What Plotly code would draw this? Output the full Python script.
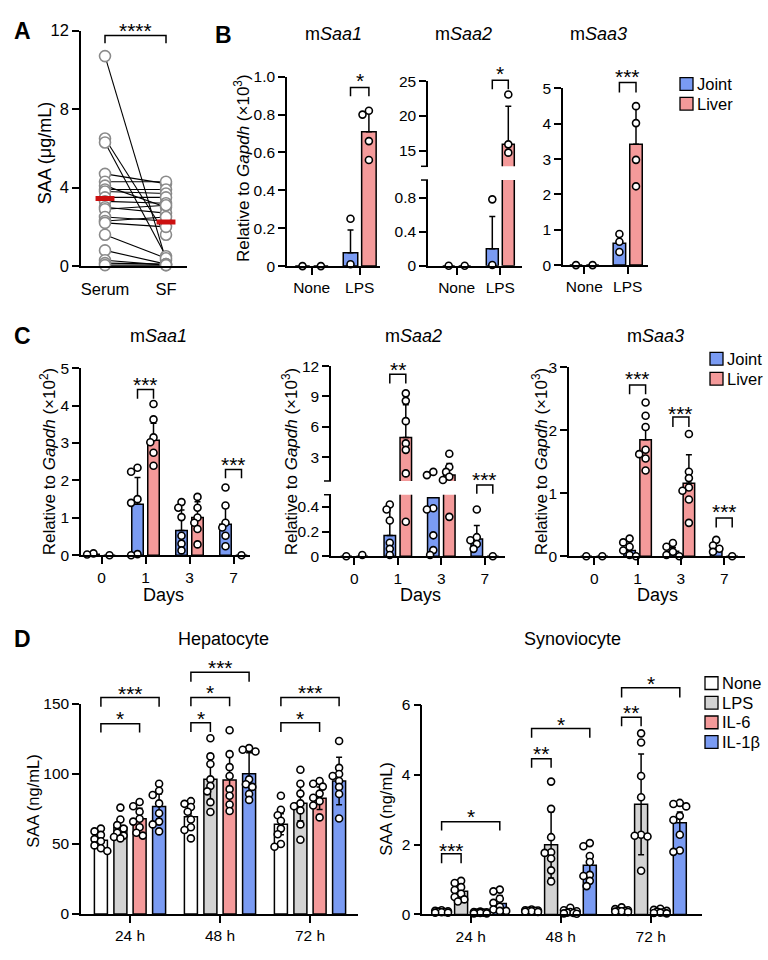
import plotly.graph_objects as go

W, H = 768, 960
FONT = "Liberation Sans, Arial, sans-serif"
BLUE = "#7A9BF3"
PINK = "#F49A9A"
GREY = "#D3D3D3"
WHITE = "#FFFFFF"

# ======================= DATA =======================
# Panel A: paired serum / synovial fluid SAA (ug/mL)
A_groups = ["Serum", "SF"]
A_serum = [10.7, 6.5, 6.3, 4.7, 4.3, 4.1, 3.9, 3.8, 3.5, 3.3, 3.0, 2.9, 2.5, 2.3, 2.2, 1.6, 0.8, 0.3, 0.15, 0.05]
A_sf = [0.3, 1.6, 0.5, 4.2, 4.3, 3.0, 3.9, 3.7, 3.5, 3.2, 2.7, 3.1, 2.3, 2.5, 2.0, 0.4, 0.1, 0.05, 0.1, 0.05]
A_mean = [3.45, 2.25]

# Panel B: None / LPS, Joint vs Liver
B_groups = ["None", "LPS"]
B1_joint_mean = [0.0, 0.07]
B1_joint_sd = [0.0, 0.12]
B1_joint_pts = [[0.0], [0.25, 0.01]]
B1_liver_mean = [0.0, 0.71]
B1_liver_sd = [0.0, 0.12]
B1_liver_pts = [[0.0], [0.82, 0.80, 0.66, 0.56]]

B2_joint_mean = [0.0, 0.20]
B2_joint_sd = [0.0, 0.38]
B2_joint_pts = [[0.0], [0.78, 0.01]]
B2_liver_mean = [0.0, 15.9]
B2_liver_sd = [0.0, 5.5]
B2_liver_pts = [[0.0], [23.1, 15.9, 14.7]]

B3_joint_mean = [0.0, 0.62]
B3_joint_sd = [0.0, 0.20]
B3_joint_pts = [[0.0], [0.88, 0.66, 0.37]]
B3_liver_mean = [0.0, 3.42]
B3_liver_sd = [0.0, 1.07]
B3_liver_pts = [[0.0], [4.50, 4.02, 2.98, 2.23]]

# Panel C: days 0/1/3/7, Joint vs Liver
C_days = ["0", "1", "3", "7"]
C1_joint_mean = [0.03, 1.36, 0.66, 0.83]
C1_joint_sd = [0.0, 0.72, 0.55, 0.44]
C1_joint_pts = [[0.05, 0.02], [2.34, 2.23, 1.50, 1.40, 0.03, 0.0],
                [1.42, 1.27, 1.02, 0.52, 0.31, 0.13], [1.81, 1.33, 0.87, 0.74, 0.52, 0.24]]
C1_liver_mean = [0.0, 3.07, 1.01, 0.0]
C1_liver_sd = [0.0, 0.46, 0.42, 0.0]
C1_liver_pts = [[0.0], [4.04, 3.63, 3.15, 3.02, 2.74, 2.39],
                [1.56, 1.27, 1.01, 0.87, 0.70, 0.29], [0.0]]

C2_joint_mean = [0.0, 0.168, 0.475, 0.14]
C2_joint_sd = [0.0, 0.26, 0.0, 0.11]
C2_joint_pts = [[0.0], [0.42, 0.38, 0.29, 0.11, 0.06, 0.01],
                [1.54, 1.22, 0.39, 0.38, 0.17, 0.05, 0.01], [0.38, 0.155, 0.13, 0.10, 0.06]]
C2_liver_mean = [0.0, 4.94, 1.22, 0.0]
C2_liver_sd = [0.0, 3.24, 1.14, 0.0]
C2_liver_pts = [[0.01], [9.31, 8.57, 6.56, 4.36, 3.72, 1.39, 0.28],
                [3.33, 2.03, 1.54, 1.06, 0.74, 0.32], [0.0]]

C3_joint_mean = [0.0, 0.09, 0.08, 0.145]
C3_joint_sd = [0.0, 0.08, 0.06, 0.09]
C3_joint_pts = [[0.0], [0.28, 0.22, 0.15, 0.09, 0.02, 0.0],
                [0.21, 0.15, 0.07, 0.02, 0.0], [0.26, 0.17, 0.12, 0.07]]
C3_liver_mean = [0.0, 1.85, 1.16, 0.0]
C3_liver_sd = [0.0, 0.17, 0.45, 0.0]
C3_liver_pts = [[0.0], [2.44, 2.23, 2.05, 1.69, 1.62, 1.55, 1.36],
                [1.94, 1.34, 1.24, 1.09, 1.04, 0.90, 0.53], [0.0]]

# Panel D: 24/48/72 h, four stimulations
D_times = ["24 h", "48 h", "72 h"]
D_conditions = ["None", "LPS", "IL-6", "IL-1β"]

D1_none_mean = [52.6, 69.4, 64.2]
D1_none_sd = [5.0, 9.0, 7.5]
D1_none_pts = [[61, 59, 56.5, 53.5, 52, 49, 47, 45], [80.6, 78.7, 76.4, 73, 67.5, 62, 60, 54],
               [84.5, 74.5, 70.5, 66.6, 61, 57, 50, 48]]
D1_lps_mean = [61.9, 96.2, 79.2]
D1_lps_sd = [6.5, 18.0, 12.5]
D1_lps_pts = [[76, 67.5, 63.5, 61, 58, 56, 55, 54], [125.5, 112.6, 107.2, 96.2, 91.5, 87.6, 79.9, 72.9],
              [103, 93, 86, 79, 77, 74, 64, 53]]
D1_il6_mean = [68.0, 95.8, 82.7]
D1_il6_sd = [7.5, 19.0, 8.0]
D1_il6_pts = [[80, 77, 73, 68, 66, 62, 58, 56], [131.3, 114.2, 104.9, 98.6, 89.2, 84.5, 78.2, 73.6],
              [95, 93, 91, 86, 83, 80.6, 77.5, 69]]
D1_il1b_mean = [76.8, 100.2, 95.0]
D1_il1b_sd = [9.0, 15.0, 17.0]
D1_il1b_pts = [[93, 88, 85, 79, 72, 66, 64, 59], [118.5, 117.3, 116.1, 96.2, 92.7, 90.8, 85.7, 81.5],
               [123.6, 104.4, 100, 98.6, 95, 90.8, 85.7, 68.2]]

D2_none_mean = [0.08, 0.10, 0.12]
D2_none_sd = [0.02, 0.02, 0.03]
D2_none_pts = [[0.12, 0.10, 0.09, 0.08, 0.07, 0.06, 0.05, 0.05], [0.14, 0.12, 0.11, 0.10, 0.10, 0.09, 0.08, 0.07],
               [0.20, 0.15, 0.12, 0.10, 0.10, 0.09, 0.08, 0.07]]
D2_lps_mean = [0.66, 1.99, 3.15]
D2_lps_sd = [0.20, 0.95, 1.44]
D2_lps_pts = [[0.96, 0.90, 0.78, 0.70, 0.59, 0.50, 0.43, 0.37], [3.80, 3.02, 2.21, 1.78, 1.76, 1.60, 1.26, 0.94],
              [5.18, 4.92, 3.96, 3.35, 2.28, 2.25, 2.23, 1.25]]
D2_il6_mean = [0.05, 0.07, 0.08]
D2_il6_sd = [0.01, 0.02, 0.02]
D2_il6_pts = [[0.08, 0.07, 0.06, 0.05, 0.05, 0.04, 0.03, 0.03], [0.19, 0.12, 0.09, 0.07, 0.05, 0.04, 0.03, 0.02],
              [0.16, 0.13, 0.10, 0.08, 0.06, 0.05, 0.04, 0.03]]
D2_il1b_mean = [0.31, 1.41, 2.62]
D2_il1b_sd = [0.23, 0.26, 0.31]
D2_il1b_pts = [[0.71, 0.66, 0.45, 0.33, 0.22, 0.14, 0.10, 0.10], [2.04, 1.95, 1.67, 1.50, 1.13, 1.10, 0.96, 0.81],
               [3.19, 3.16, 3.09, 2.82, 2.70, 2.28, 1.83, 1.79]]

# ======================= LAYOUT GEOMETRY (pixels) =======================
PANELS = {
    'A':   dict(x0=81, x1=187, yt=22, yb=262, g0=105, s=61, yr=[0, 12]),
    'B1':  dict(x0=287, x1=380, yt=69, yb=262, g0=311.7, s=48, yr=[0, 1.0]),
    'B2l': dict(x0=428, x1=522, yt=174.3, yb=261.7, g0=456.7, s=43.6, yr=[0, 1.007]),
    'B2u': dict(x0=428, x1=522, yt=73.7, yb=160.3, g0=456.7, s=43.6, yr=[12.73, 25]),
    'B3':  dict(x0=563, x1=648, yt=81, yb=261, g0=584.3, s=43.4, yr=[0, 5]),
    'C1':  dict(x0=81, x1=250, yt=366, yb=556.7, g0=101.5, s=44, yr=[0, 5]),
    'C2l': dict(x0=331, x1=505, yt=495, yb=557.7, g0=354.3, s=43.5, yr=[0, 0.5]),
    'C2u': dict(x0=331, x1=505, yt=364, yb=481, g0=354.3, s=43.5, yr=[0.64, 12]),
    'C3':  dict(x0=569, x1=745, yt=365, yb=557.7, g0=594.3, s=43.3, yr=[0, 3]),
    'D1':  dict(x0=81, x1=358, yt=708.3, yb=922.3, g0=130, s=90, yr=[0, 150]),
    'D2':  dict(x0=422.3, x1=701.7, yt=709, yb=922.7, g0=470.7, s=90, yr=[0, 6]),
}
ORDER = list(PANELS.keys())
IDX = {k: i + 1 for i, k in enumerate(ORDER)}


def xa(k):
    i = IDX[k]
    return 'x' if i == 1 else f'x{i}'


def ya(k):
    i = IDX[k]
    return 'y' if i == 1 else f'y{i}'


def fx(px):
    return px / W


def fy(py):
    return 1 - py / H


def xpx(k, xv):
    p = PANELS[k]
    return p['g0'] + xv * p['s']


fig = go.Figure()
shapes = []
annos = []


def swarm(k, gx, vals, d=5.8, step=3.2):
    p = PANELS[k]
    sc = (p['yb'] - p['yt']) / (p['yr'][1] - p['yr'][0])
    placed, xs = [], []
    for v in vals:
        py = v * sc
        best, bestd = 0, -1
        for kk in [0, -1, 1, -2, 2]:
            px = kk * step
            md = min([((px - a) ** 2 + (py - b) ** 2) ** 0.5 for a, b in placed] or [99])
            if md >= d:
                best = px
                break
            if md > bestd:
                best, bestd = px, md
        placed.append((best, py))
        xs.append(gx + best / p['s'])
    return xs


def add_bars(k, means, color, off_px, w_px):
    p = PANELS[k]
    xs = [g + off_px / p['s'] for g in range(len(means))]
    fig.add_trace(go.Bar(x=xs, y=means, width=w_px / p['s'],
                         marker=dict(color=color, line=dict(color='black', width=1.5)),
                         xaxis=xa(k), yaxis=ya(k), showlegend=False, hoverinfo='skip'))


def add_err_pts(k, means, sds, pts, off_px, sym, msize=7):
    p = PANELS[k]
    lo, hi = p['yr']
    ex, ey, es = [], [], []
    for g, (m, sd) in enumerate(zip(means, sds)):
        if sd > 0 and lo <= m <= hi:
            ex.append(g + off_px / p['s'])
            ey.append(m)
            es.append(sd)
    if ex:
        fig.add_trace(go.Scatter(x=ex, y=ey, mode='markers', marker=dict(size=1, opacity=0),
                                 error_y=dict(type='data', array=es,
                                              arrayminus=es if sym else [0] * len(es),
                                              symmetric=False, color='black', thickness=1.5, width=3),
                                 xaxis=xa(k), yaxis=ya(k), showlegend=False, hoverinfo='skip',
                                 cliponaxis=False))
    px_, py_ = [], []
    for g, vals in enumerate(pts):
        vv = [v for v in vals if lo <= v <= hi]
        px_ += swarm(k, g + off_px / p['s'], vv)
        py_ += vv
    fig.add_trace(go.Scatter(x=px_, y=py_, mode='markers',
                             marker=dict(symbol='circle', size=msize, color='white',
                                         line=dict(color='black', width=1.6)),
                             xaxis=xa(k), yaxis=ya(k), showlegend=False, hoverinfo='skip',
                             cliponaxis=False))


def series(keys, means, sds, pts, color, off_px, w_px, sym=False):
    for k in keys:
        add_bars(k, means, color, off_px, w_px)
    for k in keys:
        add_err_pts(k, means, sds, pts, off_px, sym)


# ---------------- Panel A ----------------
lx, ly = [], []
for s_, f_ in zip(A_serum, A_sf):
    lx += [0, 1, None]
    ly += [s_, f_, None]
fig.add_trace(go.Scatter(x=lx, y=ly, mode='lines', line=dict(color='black', width=1.1),
                         xaxis='x', yaxis='y', showlegend=False, hoverinfo='skip', cliponaxis=False))
fig.add_trace(go.Scatter(x=[0] * len(A_serum) + [1] * len(A_sf), y=A_serum + A_sf, mode='markers',
                         marker=dict(size=11, color='white', line=dict(color='#8a8a8a', width=1.6)),
                         xaxis='x', yaxis='y', showlegend=False, hoverinfo='skip', cliponaxis=False))
for g, m in enumerate(A_mean):
    fig.add_trace(go.Scatter(x=[g - 0.155, g + 0.155], y=[m, m], mode='lines',
                             line=dict(color='#CC1010', width=5), xaxis='x', yaxis='y',
                             showlegend=False, hoverinfo='skip', cliponaxis=False))

# ---------------- Panel B ----------------
series(['B1'], B1_joint_mean, B1_joint_sd, B1_joint_pts, BLUE, -9.2, 14.5)
series(['B1'], B1_liver_mean, B1_liver_sd, B1_liver_pts, PINK, 9.2, 14.5)
series(['B2l', 'B2u'], B2_joint_mean, B2_joint_sd, B2_joint_pts, BLUE, -8.0, 12)
series(['B2l', 'B2u'], B2_liver_mean, B2_liver_sd, B2_liver_pts, PINK, 8.0, 12)
series(['B3'], B3_joint_mean, B3_joint_sd, B3_joint_pts, BLUE, -8.3, 12.5)
series(['B3'], B3_liver_mean, B3_liver_sd, B3_liver_pts, PINK, 8.3, 12.5)

# ---------------- Panel C ----------------
series(['C1'], C1_joint_mean, C1_joint_sd, C1_joint_pts, BLUE, -8.0, 11.5)
series(['C1'], C1_liver_mean, C1_liver_sd, C1_liver_pts, PINK, 8.0, 11.5)
series(['C2l', 'C2u'], C2_joint_mean, C2_joint_sd, C2_joint_pts, BLUE, -8.0, 11.5)
series(['C2l', 'C2u'], C2_liver_mean, C2_liver_sd, C2_liver_pts, PINK, 8.0, 11.5)
series(['C3'], C3_joint_mean, C3_joint_sd, C3_joint_pts, BLUE, -8.0, 11.5)
series(['C3'], C3_liver_mean, C3_liver_sd, C3_liver_pts, PINK, 8.0, 11.5)

# ---------------- Panel D ----------------
D_OFF = [-29.1, -9.6, 9.6, 29.1]
D_COL = [WHITE, GREY, PINK, BLUE]
D1_sets = [(D1_none_mean, D1_none_sd, D1_none_pts), (D1_lps_mean, D1_lps_sd, D1_lps_pts),
           (D1_il6_mean, D1_il6_sd, D1_il6_pts), (D1_il1b_mean, D1_il1b_sd, D1_il1b_pts)]
D2_sets = [(D2_none_mean, D2_none_sd, D2_none_pts), (D2_lps_mean, D2_lps_sd, D2_lps_pts),
           (D2_il6_mean, D2_il6_sd, D2_il6_pts), (D2_il1b_mean, D2_il1b_sd, D2_il1b_pts)]
for key, sets in (('D1', D1_sets), ('D2', D2_sets)):
    for (m, sd, pts), off, col in zip(sets, D_OFF, D_COL):
        add_bars(key, m, col, off, 13)
    for (m, sd, pts), off, col in zip(sets, D_OFF, D_COL):
        add_err_pts(key, m, sd, pts, off, True)

# ---------------- Axes ----------------
common = dict(showline=True, linecolor='black', linewidth=1.5, ticks='outside', ticklen=7,
              tickwidth=1.5, tickcolor='black', showgrid=False, zeroline=False,
              tickfont=dict(family=FONT, size=15.5, color='black'), fixedrange=True)
ytick_spec = {
    'A': ([0, 4, 8, 12], ['0', '4', '8', '12']),
    'B1': ([0, 0.2, 0.4, 0.6, 0.8, 1.0], ['0', '0.2', '0.4', '0.6', '0.8', '1.0']),
    'B2l': ([0, 0.4, 0.8], ['0', '0.4', '0.8']),
    'B2u': ([15, 20, 25], ['15', '20', '25']),
    'B3': ([0, 1, 2, 3, 4, 5], ['0', '1', '2', '3', '4', '5']),
    'C1': ([0, 1, 2, 3, 4, 5], ['0', '1', '2', '3', '4', '5']),
    'C2l': ([0, 0.2, 0.4], ['0', '0.2', '0.4']),
    'C2u': ([3, 6, 9, 12], ['3', '6', '9', '12']),
    'C3': ([0, 1, 2, 3], ['0', '1', '2', '3']),
    'D1': ([0, 50, 100, 150], ['0', '50', '100', '150']),
    'D2': ([0, 2, 4, 6], ['0', '2', '4', '6']),
}
xtick_spec = {'A': A_groups, 'B1': B_groups, 'B2l': B_groups, 'B3': B_groups,
              'C1': C_days, 'C2l': C_days, 'C3': C_days, 'D1': D_times, 'D2': D_times}
lay = {}
for k, p in PANELS.items():
    i = IDX[k]
    xn = 'xaxis' if i == 1 else f'xaxis{i}'
    yn = 'yaxis' if i == 1 else f'yaxis{i}'
    xr = [(p['x0'] - p['g0']) / p['s'], (p['x1'] - p['g0']) / p['s']]
    xd = dict(common, domain=[fx(p['x0']), fx(p['x1'])], range=xr, anchor=ya(k))
    if k in xtick_spec:
        labs = xtick_spec[k]
        xd.update(tickmode='array', tickvals=list(range(len(labs))), ticktext=labs)
        if k == 'A':
            xd.update(tickcolor='rgba(0,0,0,0)', tickfont=dict(family=FONT, size=16.5, color='black'))
    else:
        xd.update(visible=False)
    tv, tt = ytick_spec[k]
    yd = dict(common, domain=[fy(p['yb']), fy(p['yt'])], range=p['yr'], anchor=xa(k),
              tickmode='array', tickvals=tv, ticktext=tt)
    if k == 'A':
        yd.update(tickfont=dict(family=FONT, size=16.5, color='black'))
    lay[xn] = xd
    lay[yn] = yd

# break markers on broken axes
for k in ('B2l', 'C2l'):
    p = PANELS[k]
    shapes.append(dict(type='line', xref='paper', yref='paper', x0=fx(p['x0'] - 7), x1=fx(p['x0']),
                       y0=fy(p['yt']), y1=fy(p['yt']), line=dict(color='black', width=1.5)))
for k in ('B2u', 'C2u'):
    p = PANELS[k]
    shapes.append(dict(type='line', xref='paper', yref='paper', x0=fx(p['x0'] - 7), x1=fx(p['x0']),
                       y0=fy(p['yb']), y1=fy(p['yb']), line=dict(color='black', width=1.5)))


def ann(text, x, y, size=15, **kw):
    d = dict(text=text, x=fx(x), y=fy(y), xref='paper', yref='paper', showarrow=False,
             font=dict(family=FONT, size=size, color='black'), xanchor='center', yanchor='middle')
    d.update(kw)
    annos.append(d)


STAR = 21


def bracket(k, xl, xr, top, bot, label, star_y):
    L = fx(xpx(k, xl))
    R = fx(xpx(k, xr))
    shapes.append(dict(type='path', xref='paper', yref='paper',
                       path=f"M {L},{fy(bot)} L {L},{fy(top)} L {R},{fy(top)} L {R},{fy(bot)}",
                       line=dict(color='black', width=1.5)))
    ann(label, (xpx(k, xl) + xpx(k, xr)) / 2, star_y + 4, size=STAR)


# A
bracket('A', 0, 1, 27, 35, '****', 18)
# B
for k, off, top, bot, sy, lab in (('B1', 9.2, 80, 89, 69, '*'), ('B2u', 8.0, 72.7, 81.7, 62, '*'),
                                   ('B3', 8.3, 75, 85, 65, '***')):
    s = PANELS[k]['s']
    bracket(k, 1 - off / s, 1 + off / s, top, bot, lab, sy)
# C
for k, g, top, bot, sy, lab in (('C1', 1, 387.7, 397.3, 379, '***'), ('C1', 3, 469.3, 478.3, 460, '***'),
                                 ('C2u', 1, 372.3, 381.7, 363, '**'), ('C2l', 3, 485, 494, 475, '***'),
                                 ('C3', 1, 383.3, 392.7, 372.7, '***'), ('C3', 2, 415.7, 426, 408.3, '***'),
                                 ('C3', 3, 518.7, 528.3, 508.3, '***')):
    s = PANELS[k]['s']
    bracket(k, g - 8 / s, g + 8 / s, top, bot, lab, sy)
# D
D_BRK = [('D1', 0, 2, 728.3, 737.3, 719.3, '*'), ('D1', 0, 3, 701.7, 711, 693.3, '***'),
         ('D1', 1, 1, 727.3, 736.7, 719.3, '*'), ('D1', 1, 2, 701.7, 710.7, 692.7, '*'),
         ('D1', 1, 3, 676, 685.7, 666.7, '***'), ('D1', 2, 2, 727.3, 736.7, 719.3, '*'),
         ('D1', 2, 3, 701.7, 710.7, 692.7, '***'),
         ('D2', 0, 1, 861, 870.7, 853.3, '***'), ('D2', 0, 3, 828.3, 837.3, 819.3, '*'),
         ('D2', 1, 1, 764, 773.3, 755, '**'), ('D2', 1, 3, 733.3, 742.7, 725, '*'),
         ('D2', 2, 1, 721.7, 731, 713.3, '**'), ('D2', 2, 3, 691.7, 701.7, 683.3, '*')]
for k, g, c, top, bot, sy, lab in D_BRK:
    s = PANELS[k]['s']
    bracket(k, g + D_OFF[0] / s, g + D_OFF[c] / s, top, bot, lab, sy)

# panel letters
for t, x, y in (('A', 22, 22), ('B', 223, 26), ('C', 22.5, 333), ('D', 22, 642)):
    ann(f'<b>{t}</b>', x, y, size=23)

# titles
for t, x, y in (('m<i>Saa1</i>', 333, 25), ('m<i>Saa2</i>', 463, 25), ('m<i>Saa3</i>', 598, 25),
                ('m<i>Saa1</i>', 158, 333), ('m<i>Saa2</i>', 413, 333), ('m<i>Saa3</i>', 655, 333),
                ('Hepatocyte', 223, 642), ('Synoviocyte', 572, 642)):
    ann(t, x, y, size=18)

# y titles
YT3 = 'Relative to <i>Gapdh</i> (×10<sup>3</sup>)'
YT2 = 'Relative to <i>Gapdh</i> (×10<sup>2</sup>)'
for t, x, y, sz in (('SAA (μg/mL)', 45, 147, 18), (YT3, 242, 162, 17), (YT2, 48, 461, 17),
                    (YT3, 290, 461, 17), (YT3, 540, 461, 17), ('SAA (ng/mL)', 33, 807, 16.5),
                    ('SAA (ng/mL)', 386, 815, 16.5)):
    ann(t, x, y, size=sz, textangle=-90)

# x titles
for x in (163, 420, 657):
    ann('Days', x, 597.5, size=18)


# legends
def legend(items, x, y0, dy):
    for j, (lab, col) in enumerate(items):
        yc = y0 + j * dy
        shapes.append(dict(type='rect', xref='paper', yref='paper', x0=fx(x), x1=fx(x + 13),
                           y0=fy(yc + 6.5), y1=fy(yc - 6.5), fillcolor=col,
                           line=dict(color='black', width=1.3)))
        ann(lab, x + 15, yc, size=16.5, xanchor='left')


legend([('Joint', BLUE), ('Liver', PINK)], 680, 76.5, 20)
legend([('Joint', BLUE), ('Liver', PINK)], 710, 356.5, 20.3)
legend(list(zip(D_conditions, D_COL)), 705, 687, 20)

fig.update_layout(width=W, height=H, margin=dict(l=0, r=0, t=0, b=0), paper_bgcolor='white',
                  plot_bgcolor='rgba(0,0,0,0)', barmode='overlay', showlegend=False,
                  font=dict(family=FONT, size=15, color='black'), shapes=shapes, annotations=annos,
                  **lay)
fig.write_html("out.html", config={'displayModeBar': False, 'responsive': False},
               post_script="document.body.style.margin='0';document.body.style.padding='0';"
                           "document.documentElement.style.overflow='hidden';")
